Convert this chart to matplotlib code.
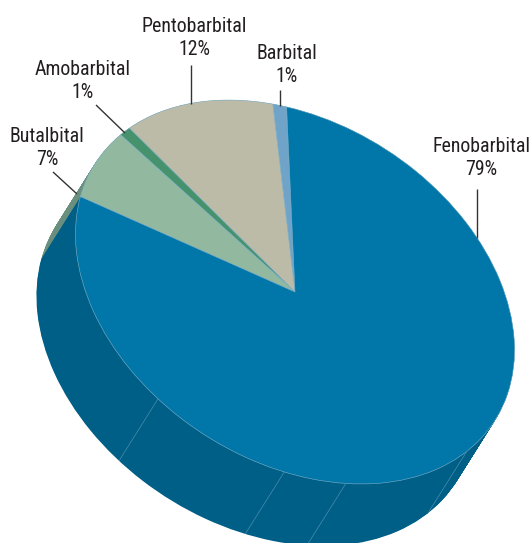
import numpy as np
import matplotlib
matplotlib.use('Agg')
import matplotlib.pyplot as plt
from matplotlib.transforms import Affine2D

# Slices, counterclockwise from the Barbital edge
drugs = ['Barbital', 'Pentobarbital', 'Amobarbital', 'Butalbital', 'Fenobarbital']
shares = [1, 12, 1, 7, 79]
top_colors = ['#6FA3C8', '#BCBBA8', '#46926D', '#92B9A0', '#0077A8']
side_colors = ['#5F8CAB', '#8F8F7E', '#3A7558', '#6B8F7F', '#005F87']

# Where the printed side panels of the big slice meet (degrees on the disc)
seam_angles = [223.2, 259.0, 275.2, 313.3]

# Label centres and leader lines, in pixels of the picture
label_x = [287, 194, 83, 47, 481]
label_y = [65, 38, 81, 148, 158]
leader_x = [(280, 280), (191, 191), (96, 125), (53, 77), (477, 477)]
leader_y = [(90, 106), (65, 104), (105, 133), (172, 194), (189, 238)]

depth_x, depth_y = -39, 62
start_angle = 84

plt.rcParams['font.family'] = ['Roboto Condensed', 'Sofia Sans Condensed', 'Liberation Sans']

fig = plt.figure(figsize=(5.32, 5.43), dpi=100)
ax = fig.add_axes([0, 0, 1, 1])

# Tilted disc: unit circle -> ellipse in picture pixels
disc = Affine2D.from_values(217.3, 31.3, -31.3, -189.4, 295, 292)

# Side wall: stack of dark pies from deepest up to the top face
for step in np.linspace(1, 0, 90):
    wedges, _ = ax.pie(shares, colors=side_colors, startangle=start_angle,
                       wedgeprops={'linewidth': 0})
    shift = Affine2D().translate(depth_x * step, depth_y * step)
    for w in wedges:
        w.set_transform(disc + shift + ax.transData)

# Seams on the side wall
for angle in seam_angles:
    rim = disc.transform((np.cos(np.radians(angle)), np.sin(np.radians(angle))))
    ax.plot([rim[0], rim[0] + depth_x], [rim[1], rim[1] + depth_y],
            color='#4C8CAB', lw=0.5, solid_capstyle='butt')

# Top face
wedges, _ = ax.pie(shares, colors=top_colors, startangle=start_angle,
                   wedgeprops={'linewidth': 0.4, 'edgecolor': '#7FB2CB'})
for w in wedges:
    w.set_transform(disc + ax.transData)

# Labels and leader lines
for i, drug in enumerate(drugs):
    ax.plot(leader_x[i], leader_y[i], color='#333333', lw=1.0, solid_capstyle='butt')
    ax.text(label_x[i], label_y[i], f'{drug}\n{shares[i]}%', ha='center', va='center',
            fontsize=14.3, color='#231F20', linespacing=1.28)

ax.set_aspect('auto')
ax.set_xlim(0, 532)
ax.set_ylim(543, 0)
ax.axis('off')

fig.savefig('out.png', dpi=100)
